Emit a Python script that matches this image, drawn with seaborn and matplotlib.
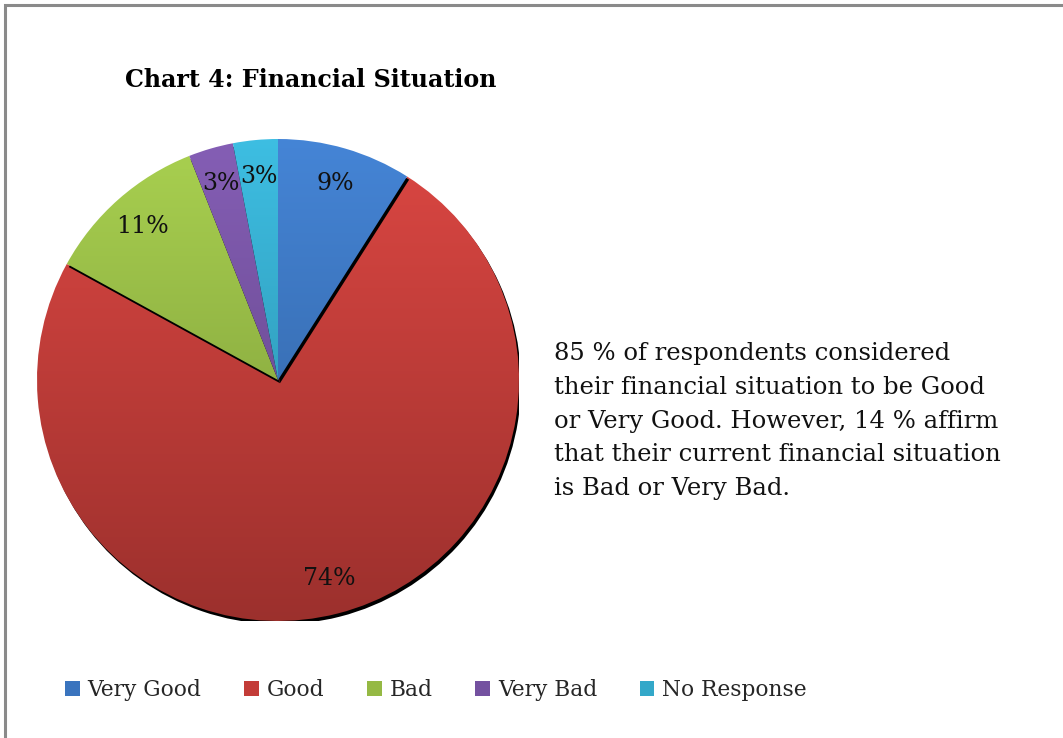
import numpy as np
import matplotlib
matplotlib.use("Agg")
import matplotlib.pyplot as plt
from matplotlib.patches import Patch, Rectangle, Wedge
from matplotlib.colors import to_rgb
import seaborn as sns

# Survey responses: self-assessed financial situation
categories = ["Very Good", "Good", "Bad", "Very Bad", "No Response"]
shares = [9, 74, 11, 3, 3]
pct_labels = ["9%", "74%", "11%", "3%", "3%"]
palette_hex = ["#3A74BE", "#C33C38", "#95B944", "#7451A0", "#33A8C9"]

title = "Chart 4: Financial Situation"
note = ("85 % of respondents considered\n"
        "their financial situation to be Good\n"
        "or Very Good. However, 14 % affirm\n"
        "that their current financial situation\n"
        "is Bad or Very Bad.")

sns.set_theme(style="white")
plt.rcParams["font.family"] = ["DejaVu Serif"]
colors = sns.color_palette(palette_hex)

W, H = 1063, 738
fig = plt.figure(figsize=(W / 100, H / 100), dpi=100)
fig.patch.set_facecolor("white")

# frame around the chart area
fig.add_artist(Rectangle((5 / W, -0.2), 1.5, 1.2 - 5 / H, transform=fig.transFigure,
                         fill=False, edgecolor="#8a8a8a", linewidth=2.2, clip_on=False))

cx, cy, r = 278, 380, 241
ax = fig.add_axes([(cx - r) / W, (H - cy - r) / H, 2 * r / W, 2 * r / H])

wedges, texts, autotexts = ax.pie(
    shares, labels=None, startangle=90, counterclock=False,
    autopct=lambda p: "", pctdistance=0.85, radius=1.0,
    colors=colors, wedgeprops=dict(linewidth=0))

# stacking order so each slice casts a small shadow down-right onto its neighbour
draw_order = [1, 2, 3, 4, 0]
px = 1.0 / r  # one pixel in data units
shadow_dx, shadow_dy = 2.0 * px, -3.2 * px
t = np.linspace(0, 1, 256)[:, None, None]
for rank, i in enumerate(draw_order):
    w, c = wedges[i], colors[i]
    z = 1 + rank
    sh = Wedge((w.center[0] + shadow_dx, w.center[1] + shadow_dy), w.r,
               w.theta1, w.theta2, facecolor="#000000", edgecolor="none", zorder=z)
    ax.add_patch(sh)
    base = np.array(to_rgb(c))
    top = np.clip(base * 1.10 + 0.02, 0, 1)
    bot = base * 0.80
    grad = top[None, None, :] * (1 - t) + bot[None, None, :] * t
    im = ax.imshow(grad, extent=(-1, 1, -1, 1), aspect="auto", origin="upper",
                   zorder=z + 0.5)
    im.set_clip_path(w)
    w.set_facecolor("none")
    w.set_zorder(z + 0.6)

for at, lab in zip(autotexts, pct_labels):
    at.set_text(lab)
    at.set_fontsize(17)
    at.set_color("#111111")
    at.set_zorder(20)

ax.set_xlim(-1, 1)
ax.set_ylim(-1, 1)
ax.set_aspect("equal")
ax.axis("off")

fig.text(125 / W, 1 - 80 / H, title, fontsize=17.1, fontweight="bold",
         ha="left", va="center", color="#000000")

fig.text(554 / W, 1 - 421 / H, note, fontsize=17.5, ha="left", va="center",
         linespacing=1.6, color="#111111")

handles = [Patch(facecolor=c, edgecolor="none") for c in colors]
fig.legend(handles, categories, loc="center left", bbox_to_anchor=(65 / W, 1 - 690 / H),
           ncol=5, frameon=False, fontsize=15.7, handlelength=0.68, handleheight=0.68,
           handletextpad=0.36, columnspacing=1.95, borderaxespad=0, borderpad=0)

fig.savefig("out.png", dpi=100, facecolor="white")
